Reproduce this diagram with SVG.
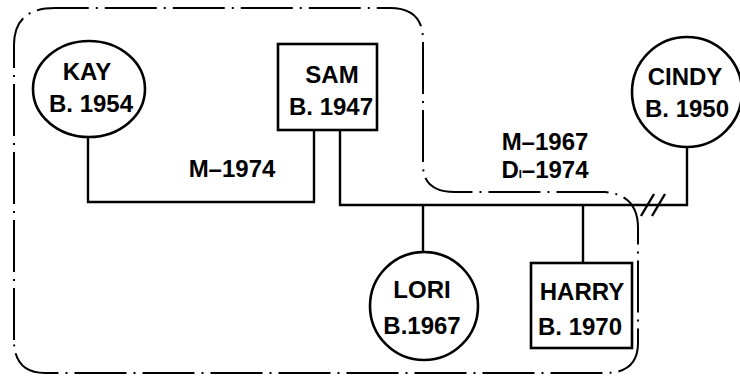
<svg xmlns="http://www.w3.org/2000/svg" width="740" height="378" viewBox="0 0 740 378">
<style>
.shape{fill:#fff;stroke:#000;stroke-width:2.6}
.line{fill:none;stroke:#000;stroke-width:2.4}
.bound{fill:none;stroke:#000;stroke-width:2;stroke-dasharray:52 7 2 7}
text{font-family:"Liberation Sans",Arial,sans-serif;font-weight:bold;font-size:24px;fill:#000;text-anchor:middle}
</style>
<rect width="740" height="378" fill="#fff"/>
<g id="household-boundary">
<path class="bound" d="M14,340 L14,45 Q14,8 55,8 L390,8 Q423,8 423,40 L423,165 Q423,192 455,192 L605,192 Q638,195 638,228 L638,343 Q638,373 605,373 L45,373 Q14,373 14,340 Z"/>
</g>
<g id="connectors">
<polyline class="line" points="88,137 88,202 314,202 314,130"/>
<polyline class="line" points="340,130 340,205 687,205 687,147"/>
<line class="line" x1="423" y1="205" x2="423" y2="251"/>
<line class="line" x1="583" y1="205" x2="583" y2="263"/>
<line class="line" x1="641" y1="216" x2="654" y2="194"/>
<line class="line" x1="652" y1="216" x2="665" y2="194"/>
</g>
<g id="kay">
<ellipse class="shape" cx="89" cy="89" rx="56" ry="48"/>
<text x="87" y="80">KAY</text>
<text x="91" y="112">B. 1954</text>
</g>
<g id="sam">
<rect class="shape" x="278" y="44" width="99" height="86"/>
<text x="332" y="83">SAM</text>
<text x="331" y="115">B. 1947</text>
</g>
<g id="cindy">
<circle class="shape" cx="687" cy="92" r="55"/>
<text x="685" y="85">CINDY</text>
<text x="687" y="117">B. 1950</text>
</g>
<g id="lori">
<circle class="shape" cx="424" cy="306" r="54"/>
<text x="422" y="298">LORI</text>
<text x="422" y="334">B.1967</text>
</g>
<g id="harry">
<rect class="shape" x="531" y="263" width="101" height="85"/>
<text x="582" y="300">HARRY</text>
<text x="580" y="335">B. 1970</text>
</g>
<g id="labels">
<text x="232" y="177">M–1974</text>
<text x="545" y="150">M–1967</text>
<text x="545" y="178">D<tspan font-size="11">I</tspan>–1974</text>
</g>
</svg>
